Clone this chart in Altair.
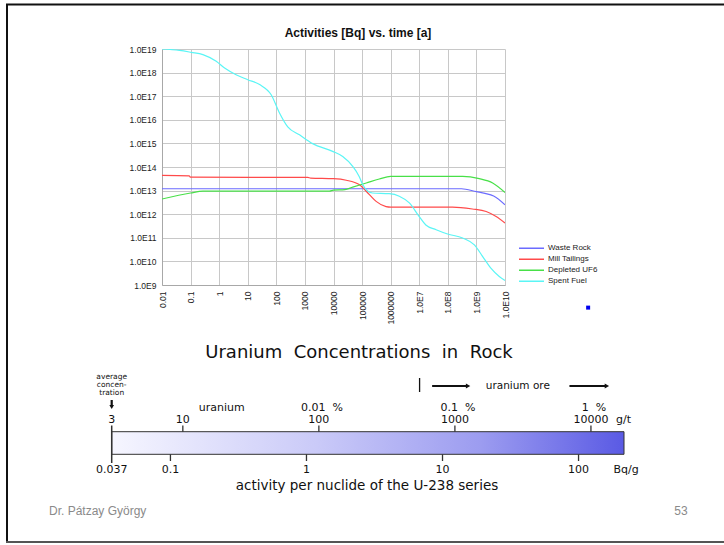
import altair as alt
import pandas as pd

# ---------------- activity curves: time [a] -> activity [Bq] ----------------
SERIES = ["Waste Rock", "Mill Tailings", "Depleted UF6", "Spent Fuel"]
COLORS = ["#6b6bff", "#ff4a4a", "#48e048", "#5af5f5"]

waste_rock_t = [1e-2, 3e8, 1e9, 2e9, 4e9, 1e10]
waste_rock_a = [1.2e13, 1.2e13, 9.0e12, 7.6e12, 5.9e12, 2.5e12]

mill_tailings_t = [1e-2, 8.9e-2, 1e-1, 1.26e3, 1.58e3, 1e4, 2.8e4, 7.9e4, 1.8e5,
                   3.1e5, 6.9e5, 1e6, 1.45e8, 7.2e8, 2.2e9, 4.9e9, 1e10]
mill_tailings_a = [4.4e13, 4.2e13, 3.7e13, 3.6e13, 3.4e13, 3.2e13, 2.75e13, 1.8e13, 6.8e12,
                   3.5e12, 2.1e12, 2.0e12, 2.0e12, 1.66e12, 1.3e12, 7.9e11, 4.2e11]

depleted_uf6_t = [1e-2, 1e-1, 2.7e-1, 7.2e3, 1e4, 2.5e4, 4.7e4, 1.4e5, 4e5, 1e6,
                  3.3e8, 1.26e9, 3.7e9, 1e10]
depleted_uf6_a = [4.4e12, 7.9e12, 9.5e12, 9.5e12, 1.05e13, 1.1e13, 1.4e13, 2.1e13, 3.1e13, 4.0e13,
                  4.0e13, 3.2e13, 2.1e13, 8.3e12]

spent_fuel_t = [1e-2, 4.1e-2, 1.05e-1, 2.7e-1, 7.9e-1, 1.55, 3.9, 10, 26, 66, 129, 251, 646,
                1.86e3, 9.3e3, 2.1e4, 4.7e4, 7.9e4, 1.05e5, 1.6e5, 2.3e5, 8.9e5, 2.0e6,
                4.5e6, 1e7, 1.7e7, 3.9e7, 9.8e7, 3.3e8, 8.5e8, 1.66e9, 3.2e9, 6.3e9, 1e10]
spent_fuel_a = [1.0e19, 8.7e18, 7.2e18, 5.8e18, 3.0e18, 1.55e18, 8.1e17, 5.0e17, 3.1e17, 1.15e17,
                1.95e16, 5.0e15, 2.3e15, 9.8e14, 4.6e14, 2.8e14, 1.07e14, 4.0e13, 1.8e13, 9.3e12,
                7.9e12, 7.4e12, 5.8e12, 3.0e12, 7.9e11, 3.5e11, 2.2e11, 1.45e11, 9.8e10, 5.0e10,
                1.6e10, 5.2e9, 2.3e9, 1.55e9]

TIME_TICKS = [1e-2, 1e-1, 1, 10, 100, 1e3, 1e4, 1e5, 1e6, 1e7, 1e8, 1e9, 1e10]
TIME_LABELS = ["0.01", "0.1", "1", "10", "100", "1000", "10000", "100000", "1000000",
               "1.0E7", "1.0E8", "1.0E9", "1.0E10"]
ACT_TICKS = [1e9, 1e10, 1e11, 1e12, 1e13, 1e14, 1e15, 1e16, 1e17, 1e18, 1e19]
ACT_LABELS = ["1.0E9", "1.0E10", "1.0E11", "1.0E12", "1.0E13", "1.0E14", "1.0E15",
              "1.0E16", "1.0E17", "1.0E18", "1.0E19"]

# stray blue marker beside the legend
marker_t = [8.1e12]
marker_a = [1.1e8]

# ---------------- uranium concentration scale ----------------
NBSP2 = "\u00a0\u00a0"
GT_RANGE = [3, 17500]                 # g/t covered by the shaded bar
GT_TICKS = [3, 10, 100, 1000, 10000]
GT_LABELS = ["3", "10", "100", "1000", "10000"]
PCT_VALUES = [100, 1000, 10000]
PCT_LABELS = ["0.01" + NBSP2 + "%", "0.1" + NBSP2 + "%", "1" + NBSP2 + "%"]
BQ_PER_GT = 0.037 / 3                  # Bq/g per nuclide for 1 g/t uranium
BQ_TICKS = [0.037, 0.1, 1, 10, 100]
BQ_LABELS = ["0.037", "0.1", "1", "10", "100"]
ORE_START = 550                        # g/t where ore grade begins
ORE_ARROWS = [(680, 1250), (6950, 13100)]
AVERAGE_NOTE = ["average", "concen-", "tration"]

# ---------------- layout ----------------
LEFT, TOP = 162, 49          # plot area origin on the page
W, H = 343, 236              # plot area size
PAGE_W, PAGE_H = 724, 545


def px(x):
    return x - LEFT


def py(y):
    return y - TOP


def series_frame():
    rows = []
    for name, ts, As in zip(SERIES,
                            [waste_rock_t, mill_tailings_t, depleted_uf6_t, spent_fuel_t],
                            [waste_rock_a, mill_tailings_a, depleted_uf6_a, spent_fuel_a]):
        for t, a in zip(ts, As):
            rows.append({"series": name, "t": t, "a": a})
    return pd.DataFrame(rows)


def label_expr(labels, shift):
    arr = "[" + ",".join("'%s'" % s for s in labels) + "]"
    return "%s[round(log(datum.value)/LN10)+%d]" % (arr, shift)


time_scale = alt.Scale(type="log", domain=[TIME_TICKS[0], TIME_TICKS[-1]], nice=False)
act_scale = alt.Scale(type="log", domain=[ACT_TICKS[0], ACT_TICKS[-1]], nice=False)

lines = alt.Chart(series_frame()).mark_line(
    strokeWidth=1.2, interpolate="monotone", clip=True
).encode(
    x=alt.X("t:Q", scale=time_scale, title=None,
            axis=alt.Axis(values=TIME_TICKS, labelExpr=label_expr(TIME_LABELS, 2),
                          labelAngle=270, labelPadding=6, ticks=False, grid=True,
                          gridColor="#c8c8c8", domainColor="#a8a8a8",
                          labelFont="Liberation Sans", labelFontSize=8.5,
                          labelColor="#222222", labelOverlap=False)),
    y=alt.Y("a:Q", scale=act_scale, title=None,
            axis=alt.Axis(values=ACT_TICKS, labelExpr=label_expr(ACT_LABELS, -9),
                          labelPadding=6, ticks=False, grid=True,
                          gridColor="#c8c8c8", domainColor="#a8a8a8",
                          labelFont="Liberation Sans", labelFontSize=8.5,
                          labelColor="#222222", labelOverlap=False)),
    color=alt.Color("series:N", scale=alt.Scale(domain=SERIES, range=COLORS),
                    legend=alt.Legend(orient="none", legendX=px(518), legendY=py(243),
                                      title=None, symbolType="stroke", symbolSize=625,
                                      symbolStrokeWidth=1.5, labelFont="Liberation Sans",
                                      labelFontSize=8, labelColor="#222222",
                                      rowPadding=0, clipHeight=10.5, labelOffset=3)),
)

marker = alt.Chart(pd.DataFrame({"t": marker_t, "a": marker_a})).mark_square(
    size=16, color="#0000ee", opacity=1
).encode(
    x=alt.X("t:Q", scale=time_scale, axis=None),
    y=alt.Y("a:Q", scale=act_scale, axis=None),
)

chart_title = alt.Chart(pd.DataFrame({"k": [0]})).mark_text(
    text="Activities [Bq] vs. time [a]", font="Liberation Sans", fontSize=12,
    fontWeight="bold", color="#111111", baseline="middle"
).encode(x=alt.value(px(358)), y=alt.value(py(33)))

# ---------------- concentration bar ----------------
gt_scale = alt.Scale(type="log", domain=GT_RANGE, range=[px(111.7), px(624)], nice=False)
bq_scale = alt.Scale(type="log", domain=[GT_RANGE[0] * BQ_PER_GT, GT_RANGE[1] * BQ_PER_GT],
                     range=[px(111.7), px(624)], nice=False)
FONT = "DejaVu Sans"
FS = 11


def gx(field="v"):
    return alt.X(field + ":Q", scale=gt_scale, axis=None)


def bx(field="v"):
    return alt.X(field + ":Q", scale=bq_scale, axis=None)


bar = alt.Chart(pd.DataFrame({"lo": [GT_RANGE[0]], "hi": [GT_RANGE[1]]})).mark_rect(
    fill=alt.Gradient(gradient="linear", x1=0, x2=1, y1=0, y2=0, stops=[
        alt.GradientStop(color="#f6f6ff", offset=0),
        alt.GradientStop(color="#cacaf8", offset=0.4),
        alt.GradientStop(color="#9c9cf0", offset=0.72),
        alt.GradientStop(color="#5a5ae4", offset=1)]),
    stroke="#333333", strokeWidth=1
).encode(x=gx("lo"), x2="hi:Q", y=alt.value(py(431.7)), y2=alt.value(py(454.3)))

gt_df = pd.DataFrame({"v": GT_TICKS, "label": GT_LABELS})
gt_labels = alt.Chart(gt_df).mark_text(font=FONT, fontSize=FS, color="#111111",
                                       baseline="middle").encode(
    x=gx(), y=alt.value(py(420)), text="label:N")
gt_ticks = alt.Chart(gt_df[gt_df.v > GT_TICKS[0]]).mark_rule(color="#333333", strokeWidth=1.3).encode(
    x=gx(), y=alt.value(py(425.5)), y2=alt.value(py(431.7)))
edge_tick = alt.Chart(gt_df[gt_df.v == GT_TICKS[0]]).mark_rule(color="#333333", strokeWidth=1.5).encode(
    x=gx(), y=alt.value(py(425.5)), y2=alt.value(py(463)))
gt_unit = alt.Chart(pd.DataFrame({"k": [0]})).mark_text(
    text="g/t", font=FONT, fontSize=FS, color="#111111", baseline="middle", align="left"
).encode(x=alt.value(px(616)), y=alt.value(py(420)))

pct_df = pd.DataFrame({"v": PCT_VALUES, "label": PCT_LABELS})
pct_labels = alt.Chart(pct_df).mark_text(font=FONT, fontSize=FS, color="#111111",
                                         baseline="middle", dx=3).encode(
    x=gx(), y=alt.value(py(407.5)), text="label:N")
uranium_word = alt.Chart(pd.DataFrame({"v": [19.3]})).mark_text(
    text="uranium", font=FONT, fontSize=FS, color="#111111", baseline="middle"
).encode(x=gx(), y=alt.value(py(407.5)))

average_note = alt.Chart(pd.DataFrame({"v": [GT_TICKS[0]]})).mark_text(
    text=AVERAGE_NOTE, font=FONT, fontSize=7.5, lineHeight=8.2,
    color="#111111", baseline="top"
).encode(x=gx(), y=alt.value(py(372.5)))
average_shaft = alt.Chart(pd.DataFrame({"v": [GT_TICKS[0]]})).mark_rule(
    color="#111111", strokeWidth=2.2).encode(x=gx(), y=alt.value(py(400)), y2=alt.value(py(405)))
average_head = alt.Chart(pd.DataFrame({"v": [GT_TICKS[0]]})).mark_point(
    shape="triangle-down", filled=True, size=22, color="#111111", opacity=1
).encode(x=gx(), y=alt.value(py(407)))

bq_df = pd.DataFrame({"v": BQ_TICKS, "label": BQ_LABELS})
bq_labels = alt.Chart(bq_df).mark_text(font=FONT, fontSize=FS, color="#111111",
                                       baseline="middle").encode(
    x=bx(), y=alt.value(py(469.5)), text="label:N")
bq_ticks = alt.Chart(bq_df[bq_df.v > BQ_TICKS[0]]).mark_rule(color="#333333", strokeWidth=1.3).encode(
    x=bx(), y=alt.value(py(454.3)), y2=alt.value(py(461)))
bq_unit = alt.Chart(pd.DataFrame({"k": [0]})).mark_text(
    text="Bq/g", font=FONT, fontSize=FS, color="#111111", baseline="middle"
).encode(x=alt.value(px(626)), y=alt.value(py(469.5)))

# ore-grade bracket and arrows
ore_start = alt.Chart(pd.DataFrame({"v": [ORE_START]})).mark_rule(
    color="#111111", strokeWidth=1.3).encode(x=gx(), y=alt.value(py(378)), y2=alt.value(py(392)))
arrow_df = pd.DataFrame({"v": [a for a, b in ORE_ARROWS], "v2": [b for a, b in ORE_ARROWS]})
ore_shafts = alt.Chart(arrow_df).mark_rule(color="#111111", strokeWidth=2).encode(
    x=gx(), x2="v2:Q", y=alt.value(py(386)))
ore_heads = alt.Chart(arrow_df).mark_point(
    shape="triangle-right", filled=True, size=26, color="#111111", opacity=1
).encode(x=gx("v2"), y=alt.value(py(386)))
ore_word = alt.Chart(pd.DataFrame({"v": [2900]})).mark_text(
    text="uranium ore", font=FONT, fontSize=10.5, color="#111111", baseline="middle"
).encode(x=gx(), y=alt.value(py(386)))

section_title = alt.Chart(pd.DataFrame({"k": [0]})).mark_text(
    text="Uranium" + NBSP2 + "Concentrations" + NBSP2 + "in" + NBSP2 + "Rock",
    font=FONT, fontSize=18, color="#111111", baseline="middle"
).encode(x=alt.value(px(359)), y=alt.value(py(353)))
bq_caption = alt.Chart(pd.DataFrame({"k": [0]})).mark_text(
    text="activity per nuclide of the U-238 series", font=FONT, fontSize=13.5,
    color="#111111", baseline="middle"
).encode(x=alt.value(px(367)), y=alt.value(py(485.5)))

# ---------------- slide frame and footer ----------------
frame_top = alt.Chart(pd.DataFrame({"k": [0]})).mark_rule(color="#111111", strokeWidth=2).encode(
    x=alt.value(px(6)), x2=alt.value(px(PAGE_W)), y=alt.value(py(4.5)))
frame_left = alt.Chart(pd.DataFrame({"k": [0]})).mark_rule(color="#111111", strokeWidth=2).encode(
    x=alt.value(px(7)), y=alt.value(py(4)), y2=alt.value(py(543)))
frame_bottom = alt.Chart(pd.DataFrame({"k": [0]})).mark_rule(color="#555555", strokeWidth=2).encode(
    x=alt.value(px(6)), x2=alt.value(px(PAGE_W)), y=alt.value(py(542)))
author = alt.Chart(pd.DataFrame({"k": [0]})).mark_text(
    text="Dr. Pátzay György", font="Liberation Sans", fontSize=12, color="#8a8a8a",
    align="left", baseline="middle"
).encode(x=alt.value(px(49)), y=alt.value(py(511)))
page_no = alt.Chart(pd.DataFrame({"k": [0]})).mark_text(
    text="53", font="Liberation Sans", fontSize=12, color="#8a8a8a", baseline="middle"
).encode(x=alt.value(px(681)), y=alt.value(py(511)))

chart = alt.layer(
    lines, marker, chart_title,
    bar, gt_ticks, edge_tick, gt_labels, gt_unit, pct_labels, uranium_word,
    average_note, average_shaft, average_head,
    bq_ticks, bq_labels, bq_unit,
    ore_start, ore_shafts, ore_heads, ore_word,
    section_title, bq_caption,
    frame_top, frame_left, frame_bottom, author, page_no,
).resolve_scale(
    x="independent", y="independent"
).properties(
    width=W, height=H,
    padding={"left": LEFT, "top": TOP, "right": PAGE_W - LEFT - W, "bottom": PAGE_H - TOP - H},
    autosize=alt.AutoSizeParams(type="none"),
    background="white",
).configure_view(stroke=None)

chart.save("out.html", embed_options={"renderer": "svg", "actions": False})
